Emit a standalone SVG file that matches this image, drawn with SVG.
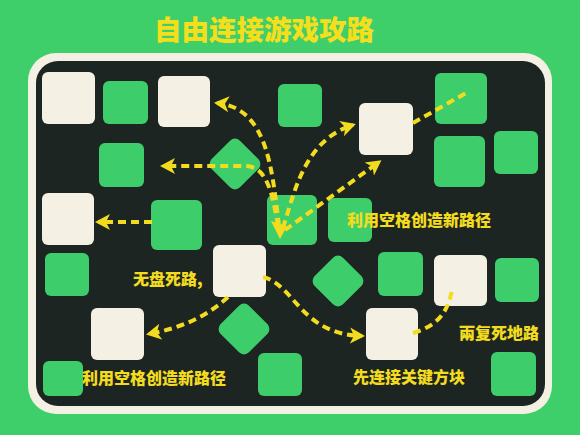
<svg xmlns="http://www.w3.org/2000/svg" width="580" height="435" viewBox="0 0 580 435">
<defs>
<style>
.g{fill:#3ecd6b}
.c{fill:#f4f1e4}
.lbl{font-family:"Noto Sans CJK SC","Noto Sans",sans-serif;font-weight:900;fill:#f3dc20;font-size:16px}
.ttl{font-family:"Noto Sans CJK SC","Noto Sans",sans-serif;font-weight:900;fill:#f5de1c;font-size:27.5px}
.d{fill:none;stroke:#f3dc20;stroke-width:4;stroke-dasharray:8 5}
.ah{fill:#f3dc20}
</style>
<marker id="arr" markerUnits="userSpaceOnUse" markerWidth="18" markerHeight="18" refX="12" refY="8" orient="auto" viewBox="0 0 18 16">
<path d="M0,0 L15,8 L0,16 L4,8 Z" fill="#f3dc20"/>
</marker>
</defs>
<rect width="580" height="435" fill="#3ecf6b"/>
<text class="ttl" x="264" y="40" text-anchor="middle">自由连接游戏攻路</text>
<rect x="28" y="53" width="524" height="361" rx="28" fill="#f4f1e4"/>
<rect x="36" y="61" width="509" height="345" rx="22" fill="#1c2521"/>

<g id="n1"><rect class="c" x="42" y="72" width="53" height="52" rx="6"/></g>
<g id="n2"><rect class="g" x="103" y="81" width="45" height="43" rx="6"/></g>
<g id="n3"><rect class="c" x="158" y="76" width="52" height="51" rx="6"/></g>
<g id="n4"><rect class="g" x="278" y="84" width="44" height="43" rx="6"/></g>
<g id="n5"><rect class="c" x="359" y="103" width="54" height="52" rx="6"/></g>
<g id="n6"><rect class="g" x="435" y="73" width="52" height="51" rx="6"/></g>
<g id="n7"><rect class="g" x="99" y="143" width="45" height="44" rx="6"/></g>
<g id="n8"><rect class="g" x="215" y="144" width="40" height="40" rx="7" transform="rotate(45 235 164)"/></g>
<g id="n9"><rect class="g" x="434" y="136" width="51" height="51" rx="6"/></g>
<g id="n10"><rect class="g" x="494" y="131" width="44" height="43" rx="6"/></g>
<g id="n11"><rect class="c" x="42" y="193" width="52" height="52" rx="6"/></g>
<g id="n12"><rect class="g" x="151" y="200" width="51" height="50" rx="6"/></g>
<g id="n13"><rect class="g" x="267" y="195" width="50" height="50" rx="6"/></g>
<g id="n14"><rect class="g" x="328" y="198" width="44" height="44" rx="6"/></g>
<g id="n15"><rect class="g" x="45" y="253" width="44" height="43" rx="6"/></g>
<g id="n16"><rect class="c" x="213" y="245" width="53" height="52" rx="6"/></g>
<g id="n17"><rect class="g" x="318" y="261" width="40" height="40" rx="7" transform="rotate(45 338 281)"/></g>
<g id="n18"><rect class="g" x="378" y="252" width="45" height="44" rx="6"/></g>
<g id="n19"><rect class="c" x="434" y="255" width="53" height="51" rx="6"/></g>
<g id="n20"><rect class="g" x="495" y="258" width="44" height="44" rx="6"/></g>
<g id="n21"><rect class="c" x="91" y="308" width="53" height="52" rx="6"/></g>
<g id="n22"><rect class="g" x="224" y="309" width="40" height="40" rx="7" transform="rotate(45 244 329)"/></g>
<g id="n23"><rect class="c" x="366" y="308" width="52" height="52" rx="6"/></g>
<g id="n24"><rect class="g" x="43" y="361" width="40" height="35" rx="6"/></g>
<g id="n25"><rect class="g" x="258" y="353" width="44" height="43" rx="6"/></g>
<g id="n26"><rect class="g" x="491" y="352" width="45" height="44" rx="6"/></g>

<g id="connectors">
<path class="d" d="M279,226 C272,170 268,108 217,103" marker-end="url(#arr)"/>
<path class="d" d="M278,226 C272,190 266,166 245,166 L163,166" marker-end="url(#arr)"/>
<path class="d" d="M283,228 C295,190 305,140 353,125" marker-end="url(#arr)"/>
<path class="d" d="M285,230 L379,162" marker-end="url(#arr)"/>
<path class="d" d="M413,123 L466,93"/>
<path class="d" d="M152,222 L98,222" marker-end="url(#arr)"/>
<path class="d" d="M228,297 C205,318 180,328 149,334" marker-end="url(#arr)"/>
<path class="d" d="M263,277 C295,285 300,334 362,336" marker-end="url(#arr)"/>
<path class="d" d="M413,333 C440,325 448,310 452,290"/>
<path class="ah" d="M271,221 L287,226 L280,239 Z"/>
</g>

<text class="lbl" x="347" y="226">利用空格创造新路径</text>
<text class="lbl" x="133" y="285">无盘死路,</text>
<text class="lbl" x="82" y="384">利用空格创造新路径</text>
<text class="lbl" x="353" y="383">先连接关键方块</text>
<text class="lbl" x="459" y="339">兩复死地路</text>
</svg>
